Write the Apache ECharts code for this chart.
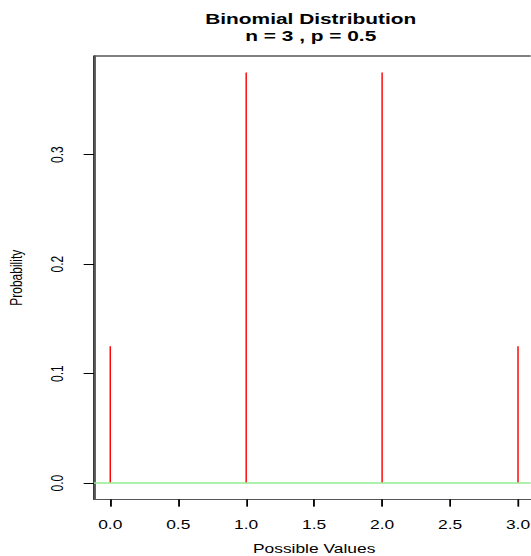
<!DOCTYPE html>
<html>
<head>
<meta charset="utf-8">
<script src="https://cdn.jsdelivr.net/npm/echarts@6/dist/echarts.min.js"></script>
<style>
html, body { margin: 0; padding: 0; background: #ffffff; overflow: hidden; }
#wrap { width: 531px; height: 556px; overflow: hidden; position: relative; }
#chart { width: 366.2px; height: 556px; transform: scaleX(1.45); transform-origin: 0 0; }
</style>
</head>
<body>
<div id="wrap"><div id="chart"></div></div>
<script>
// Data
const xValues = [0, 1, 2, 3];
const probabilities = [0.125, 0.375, 0.375, 0.125];
const xTicks = [0, 0.5, 1, 1.5, 2, 2.5, 3];
const yTicks = [0, 0.1, 0.2, 0.3];
const titleLines = ['Binomial Distribution', 'n = 3 , p = 0.5'];
const xLabel = 'Possible Values';
const yLabel = 'Probability';

const FONT = 'Liberation Sans, Arial, Helvetica, sans-serif';
const chart = echarts.init(document.getElementById('chart'), null, { renderer: 'svg' });

chart.setOption({
  animation: false,
  title: {
    text: titleLines.join('\n'),
    left: 214.3,
    top: 10.5,
    padding: 0,
    textAlign: 'center',
    textStyle: { fontFamily: FONT, fontSize: 14.4, fontWeight: 'bold', color: '#000', lineHeight: 17 }
  },
  grid: {
    left: 64.8, top: 56, width: 303.7, height: 443.5, outerBoundsMode: 'none',
    show: true, borderColor: '#000'
  },
  xAxis: [{
    type: 'value', min: -0.12, max: 3.12,
    splitLine: { show: false },
    axisLine: { show: true, onZero: false },
    axisTick: { show: true, length: 7, customValues: xTicks, lineStyle: { color: '#000' } },
    axisLabel: {
      customValues: xTicks, margin: 19.5, color: '#000', fontFamily: FONT, fontSize: 12,
      formatter: v => v.toFixed(1)
    },
    name: xLabel, nameLocation: 'middle', nameGap: 43,
    nameTextStyle: { fontFamily: FONT, fontSize: 12, color: '#000' }
  }, {
    type: 'value', min: -0.12, max: 3.12, position: 'bottom',
    splitLine: { show: false },
    axisLine: { show: true, onZero: false },
    axisTick: { show: true, length: 7, customValues: xTicks, lineStyle: { color: '#000' } },
    axisLabel: { show: false, customValues: xTicks }
  }],
  yAxis: [{
    type: 'value', min: -0.015, max: 0.39,
    splitLine: { show: false },
    axisLine: { show: true, onZero: false },
    axisTick: { show: true, length: 7, customValues: yTicks, lineStyle: { color: '#000' } },
    axisLabel: {
      customValues: yTicks, margin: 19.5, rotate: 90, color: '#000', fontFamily: FONT, fontSize: 12,
      formatter: v => v.toFixed(1)
    },
    name: yLabel, nameLocation: 'middle', nameGap: 48, nameRotate: 90,
    nameTextStyle: { fontFamily: FONT, fontSize: 12, color: '#000' }
  }, {
    type: 'value', min: -0.015, max: 0.39, position: 'left',
    splitLine: { show: false },
    axisLine: { show: true, onZero: false },
    axisTick: { show: true, length: 7, customValues: yTicks, lineStyle: { color: '#000' } },
    axisLabel: { show: false, customValues: yTicks }
  }],
  series: [{
    type: 'bar',
    xAxisIndex: 0,
    yAxisIndex: 0,
    data: xValues.map((x, i) => [x, probabilities[i]]),
    barWidth: 1.0,
    itemStyle: { color: '#ff0000' },
    markLine: {
      silent: true,
      symbol: ['none', 'none'],
      label: { show: false },
      lineStyle: { color: '#90ee90', width: 1.5, type: 'solid' },
      data: [{ yAxis: 0 }]
    }
  }]
});
</script>
</body>
</html>
